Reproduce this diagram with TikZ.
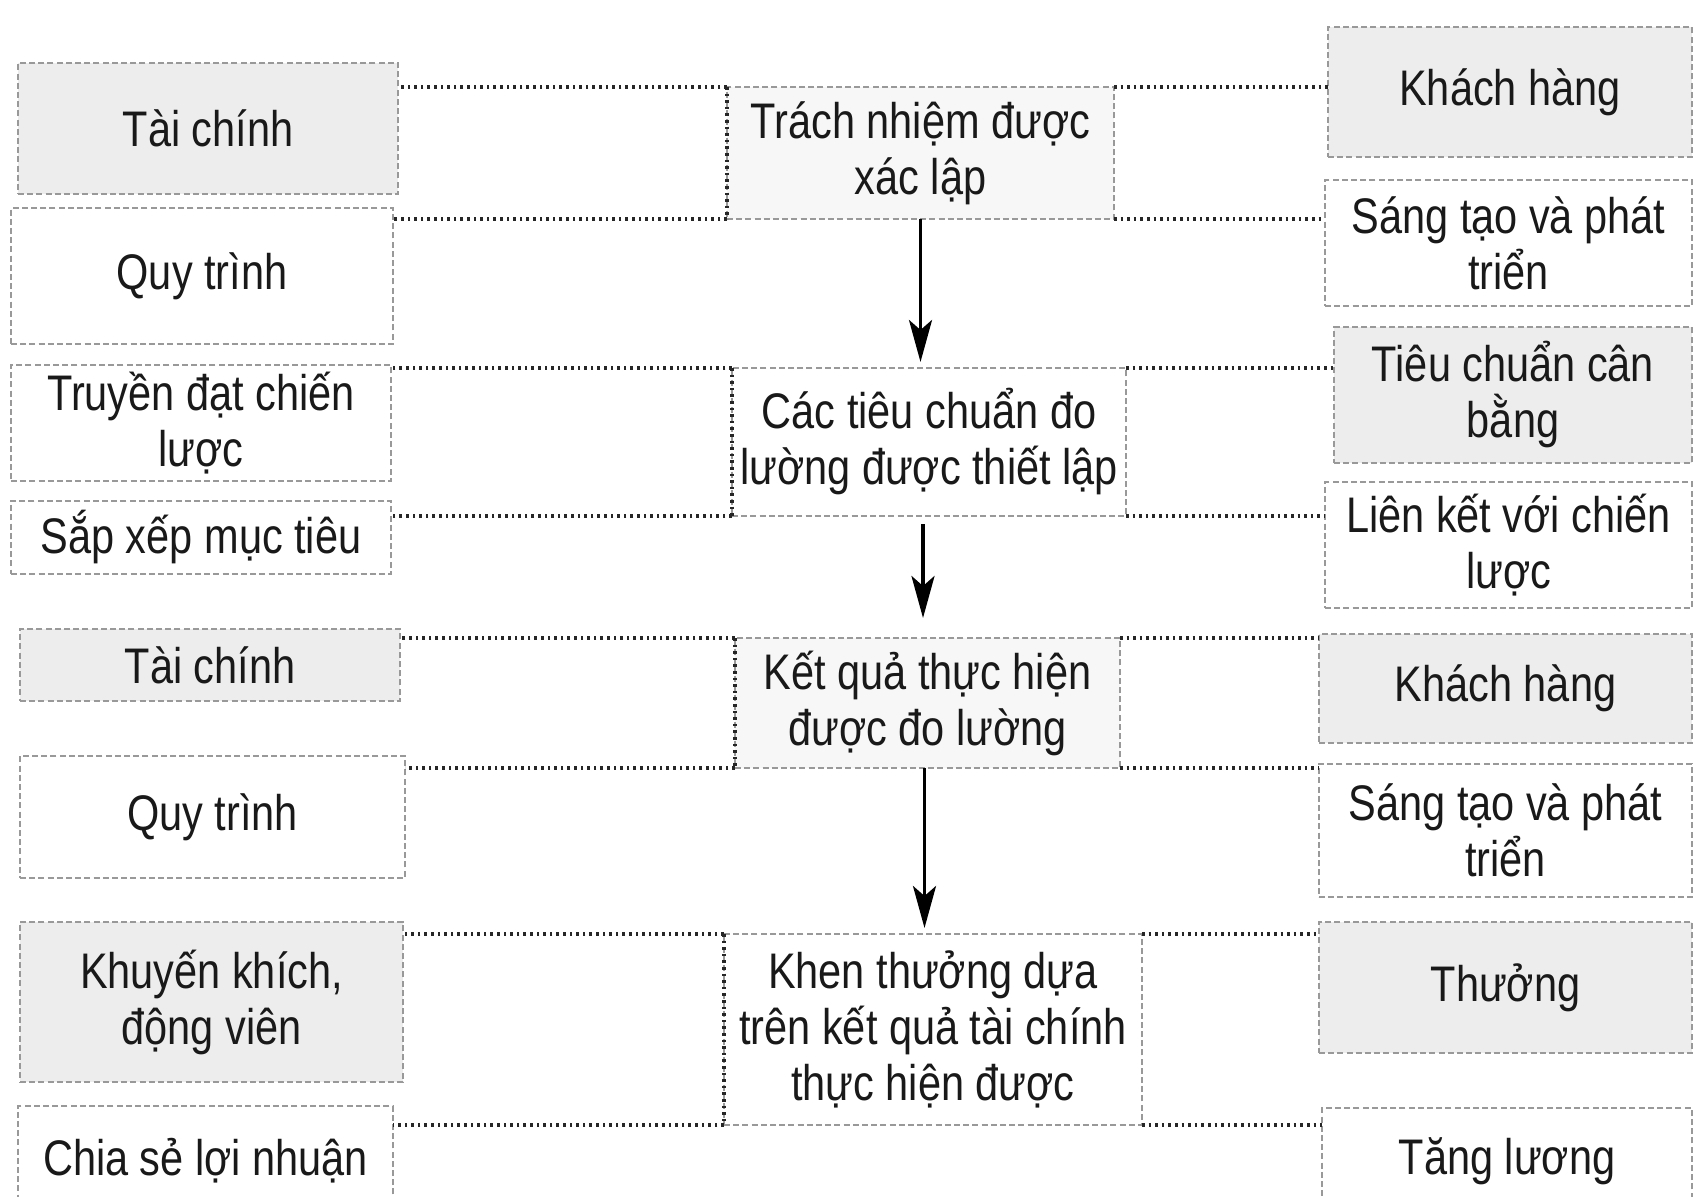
\documentclass[tikz,border=0pt]{standalone}
\usepackage{fontspec}
\setmainfont{Liberation Sans}[FakeStretch=0.83]
\usetikzlibrary{arrows.meta}
\newcommand{\mybox}[7]{\node[#6, minimum width={(#4-#2)*0.5pt}, minimum height={(#5-#3)*0.5pt}] (#1) at ({(#2+#4)/2},{(#3+#5)/2}) {#7};}
\begin{document}
\begin{tikzpicture}[x=0.5pt,y=-0.5pt,
  box/.style={draw=black!40, dash pattern=on 3pt off 1.6pt, line width=0.6pt, inner sep=0pt, outer sep=0pt, align=center, font=\fontsize{25}{28}\selectfont, text=black!90},
  shaded/.style={box, fill=black!7},
  light/.style={box, fill=black!3},
  plain/.style={box, fill=white},
  link/.style={dash pattern=on 1.3pt off 2pt, line width=1.7pt, black!85},
  flow/.style={line width=1.8pt, -{Stealth[length=21pt,width=11.5pt,inset=5pt]}}]
\useasboundingbox (0,0) rectangle (1695,1197);
\clip (0,0) rectangle (1695,1197);
\fill[white] (0,0) rectangle (1695,1197);
% left column
\mybox{L1}{18}{63}{398}{194}{shaded}{Tài chính}
\mybox{L2}{11}{208}{393}{344}{plain}{Quy trình}
\mybox{L3}{11}{365}{391}{481}{plain}{Truyền đạt chiến\\lược}
\mybox{L4}{11}{501}{391}{574}{plain}{Sắp xếp mục tiêu}
\mybox{L5}{20}{629}{400}{701}{shaded}{Tài chính}
\mybox{L6}{20}{756}{405}{878}{plain}{Quy trình}
\mybox{L7}{20}{922}{403}{1082}{shaded}{Khuyến khích,\\động viên}
\mybox{L8}{18}{1106}{393}{1215}{plain}{Chia sẻ lợi nhuận}
% centre column
\mybox{C1}{727}{87}{1114}{219}{light}{Trách nhiệm được\\xác lập}
\mybox{C2}{732}{368}{1126}{516}{plain}{Các tiêu chuẩn đo\\lường được thiết lập}
\mybox{C3}{735}{638}{1120}{768}{light}{Kết quả thực hiện\\được đo lường}
\mybox{C4}{724}{934}{1142}{1125}{plain}{Khen thưởng dựa\\trên kết quả tài chính\\thực hiện được}
% right column
\mybox{R1}{1328}{27}{1692}{157}{shaded}{Khách hàng}
\mybox{R2}{1325}{180}{1692}{306}{plain}{Sáng tạo và phát\\triển}
\mybox{R3}{1334}{327}{1692}{463}{shaded}{Tiêu chuẩn cân\\bằng}
\mybox{R4}{1325}{482}{1692}{608}{plain}{Liên kết với chiến\\lược}
\mybox{R5}{1319}{634}{1692}{743}{shaded}{Khách hàng}
\mybox{R6}{1319}{764}{1692}{897}{plain}{Sáng tạo và phát\\triển}
\mybox{R7}{1319}{922}{1692}{1053}{shaded}{Thưởng}
\mybox{R8}{1322}{1108}{1692}{1215}{plain}{Tăng lương}
% dotted links
\foreach \c/\a/\b/\p/\q in {C1/L1/L2/R1/R2, C2/L3/L4/R3/R4, C3/L5/L6/R5/R6, C4/L7/L8/R7/R8}{
  \draw[link] (\c.north west) -- (\a.east |- \c.north west);
  \draw[link] (\c.south west) -- (\b.east |- \c.south west);
  \draw[link] (\c.north west) -- (\c.south west);
  \draw[link] (\c.north east) -- (\p.west |- \c.north east);
  \draw[link] (\c.south east) -- (\q.west |- \c.south east);
}
% flow arrows
\draw[flow, shorten >=3pt] (C1.south) -- (C1.south |- C2.north);
\draw[flow, shorten <=4pt, shorten >=10pt] ([xshift=-3pt]C2.south) -- ([xshift=-3pt]C2.south |- C3.north);
\draw[flow, shorten >=3pt] ([xshift=-1.5pt]C3.south) -- ([xshift=-1.5pt]C3.south |- C4.north);
\end{tikzpicture}
\end{document}
